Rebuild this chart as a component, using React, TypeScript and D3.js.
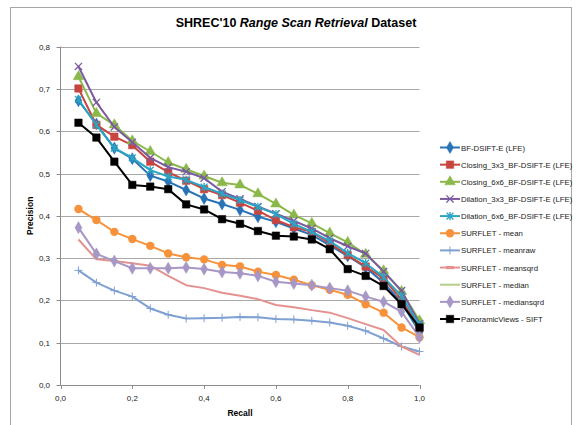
import React from "react";
import * as d3 from "d3";

const recall = [0.05, 0.1, 0.15, 0.2, 0.25, 0.3, 0.35, 0.4, 0.45, 0.5, 0.55, 0.6, 0.65, 0.7, 0.75, 0.8, 0.85, 0.9, 0.95, 1.0];

const bfDsift = [0.672, 0.617, 0.56, 0.535, 0.495, 0.481, 0.461, 0.441, 0.428, 0.414, 0.398, 0.386, 0.37, 0.355, 0.33, 0.305, 0.278, 0.242, 0.195, 0.125];
const closing3 = [0.701, 0.615, 0.587, 0.567, 0.528, 0.503, 0.483, 0.463, 0.449, 0.431, 0.412, 0.39, 0.373, 0.362, 0.335, 0.307, 0.28, 0.252, 0.201, 0.135];
const closing6 = [0.729, 0.642, 0.615, 0.577, 0.552, 0.526, 0.51, 0.494, 0.478, 0.473, 0.452, 0.428, 0.402, 0.382, 0.359, 0.337, 0.309, 0.27, 0.221, 0.152];
const dilation3 = [0.753, 0.668, 0.61, 0.574, 0.537, 0.515, 0.504, 0.489, 0.457, 0.44, 0.422, 0.405, 0.388, 0.37, 0.347, 0.328, 0.311, 0.268, 0.223, 0.145];
const dilation6 = [0.675, 0.615, 0.56, 0.537, 0.508, 0.493, 0.485, 0.468, 0.452, 0.437, 0.421, 0.404, 0.381, 0.362, 0.34, 0.312, 0.288, 0.255, 0.21, 0.142];
const surfMean = [0.416, 0.39, 0.362, 0.345, 0.329, 0.311, 0.302, 0.297, 0.284, 0.28, 0.268, 0.26, 0.249, 0.236, 0.225, 0.213, 0.191, 0.171, 0.136, 0.113];
const surfMeanraw = [0.271, 0.242, 0.223, 0.209, 0.181, 0.166, 0.157, 0.158, 0.159, 0.161, 0.16, 0.156, 0.155, 0.152, 0.148, 0.14, 0.128, 0.11, 0.091, 0.079];
const surfMeansqrd = [0.344, 0.297, 0.293, 0.288, 0.282, 0.258, 0.236, 0.229, 0.218, 0.211, 0.203, 0.189, 0.184, 0.177, 0.171, 0.158, 0.144, 0.13, 0.091, 0.071];
const surfMedian: number[] = [];
const surfMediansqrd = [0.372, 0.31, 0.293, 0.276, 0.276, 0.276, 0.278, 0.274, 0.267, 0.264, 0.258, 0.244, 0.24, 0.236, 0.229, 0.223, 0.209, 0.197, 0.173, 0.113];
const panoramic = [0.62, 0.585, 0.528, 0.473, 0.469, 0.463, 0.427, 0.415, 0.392, 0.381, 0.364, 0.353, 0.351, 0.344, 0.321, 0.274, 0.258, 0.234, 0.191, 0.136];

const seriesNames = [
  "BF-DSIFT-E (LFE)",
  "Closing_3x3_BF-DSIFT-E (LFE)",
  "Closing_6x6_BF-DSIFT-E (LFE)",
  "Dilation_3x3_BF-DSIFT-E (LFE)",
  "Dilation_6x6_BF-DSIFT-E (LFE)",
  "SURFLET - mean",
  "SURFLET - meanraw",
  "SURFLET - meansqrd",
  "SURFLET - median",
  "SURFLET - mediansqrd",
  "PanoramicViews - SIFT",
];
const seriesValues = [bfDsift, closing3, closing6, dilation3, dilation6, surfMean, surfMeanraw, surfMeansqrd, surfMedian, surfMediansqrd, panoramic];
const seriesColors = ["#2873b6", "#c8453f", "#8ab84a", "#7a5aa0", "#2ba4c4", "#f7923a", "#7ea0d2", "#e49290", "#b4d08a", "#a697c6", "#000000"];
const seriesMarkers = ["diamond", "square", "triangle", "x", "star", "circle", "plus", "dash", "none", "diamond", "square"];

const yTicks = [0, 0.1, 0.2, 0.3, 0.4, 0.5, 0.6, 0.7, 0.8];
const xTicks = [0, 0.2, 0.4, 0.6, 0.8, 1.0];

const FONT = "'Liberation Sans', Arial, sans-serif";

function Marker({ type, cx, cy, color, legend }: { type: string; cx: number; cy: number; color: string; legend?: boolean }) {
  if (type === "none") return null;
  if (type === "diamond") {
    const p = d3.symbol().type(d3.symbolDiamond).size(42)();
    return <path d={p || ""} transform={`translate(${cx},${cy})`} fill={color} stroke={color} strokeWidth={0.5} />;
  }
  if (type === "square") {
    const p = d3.symbol().type(d3.symbolSquare).size(56)();
    return <path d={p || ""} transform={`translate(${cx},${cy})`} fill={color} stroke={color} strokeWidth={0.5} />;
  }
  if (type === "triangle") {
    const p = d3.symbol().type(d3.symbolTriangle).size(48)();
    return <path d={p || ""} transform={`translate(${cx},${cy})`} fill={color} stroke={color} strokeWidth={0.5} />;
  }
  if (type === "circle") {
    return <circle cx={cx} cy={cy} r={4.2} fill={color} />;
  }
  if (type === "x") {
    const r = 3.6;
    return (
      <path d={`M${cx - r},${cy - r}L${cx + r},${cy + r}M${cx - r},${cy + r}L${cx + r},${cy - r}`} stroke={color} strokeWidth={1.3} fill="none" />
    );
  }
  if (type === "star") {
    const r = 3.4;
    return (
      <path d={`M${cx - r},${cy - r}L${cx + r},${cy + r}M${cx - r},${cy + r}L${cx + r},${cy - r}M${cx},${cy - r - 0.8}L${cx},${cy + r + 0.8}`} stroke={color} strokeWidth={1.3} fill="none" />
    );
  }
  if (type === "plus") {
    const r = 4;
    return <path d={`M${cx - r},${cy}L${cx + r},${cy}M${cx},${cy - r}L${cx},${cy + r}`} stroke={color} strokeWidth={1} fill="none" />;
  }
  if (type === "dash") {
    if (!legend) return null;
    return <rect x={cx - 4} y={cy - 1.6} width={8} height={3.2} fill={color} />;
  }
  return null;
}

export default function App() {
  const W = 582;
  const H = 425;
  const x = d3.scaleLinear().domain([0, 1]).range([60.5, 419.5]);
  const y = d3.scaleLinear().domain([0, 0.8]).range([385, 46.6]);
  const line = d3
    .line<[number, number]>()
    .x((d) => x(d[0]))
    .y((d) => y(d[1]));

  const legendX = 440;
  const legendY0 = 147.5;
  const legendStep = 17.15;

  return (
    <svg width={W} height={H} style={{ position: "absolute", left: 0, top: 0, background: "#fff" }} fontFamily={FONT}>
      <rect x={10.5} y={7.5} width={561} height={440} fill="#fff" stroke="#a6a6a6" strokeWidth={1} />
      {/* title */}
      <text x={296} y={27} textAnchor="middle" fontSize={12.5} fontWeight="bold" fill="#000">
        SHREC'10 <tspan fontStyle="italic">Range Scan Retrieval</tspan> Dataset
      </text>
      {/* gridlines */}
      {yTicks.slice(1).map((t) => (
        <line key={"g" + t} x1={x(0)} x2={x(1)} y1={Math.round(y(t)) + 0.5} y2={Math.round(y(t)) + 0.5} stroke="#a8a8a8" strokeWidth={1} />
      ))}
      {/* axes */}
      <line x1={x(0)} x2={x(0)} y1={y(0.8)} y2={y(0) + 0.5} stroke="#8c8c8c" strokeWidth={1} />
      <line x1={x(0)} x2={x(1)} y1={Math.round(y(0)) + 0.5} y2={Math.round(y(0)) + 0.5} stroke="#8c8c8c" strokeWidth={1} />
      {yTicks.map((t) => (
        <g key={"yt" + t}>
          <line x1={x(0) - 4} x2={x(0)} y1={Math.round(y(t)) + 0.5} y2={Math.round(y(t)) + 0.5} stroke="#8c8c8c" />
          <text x={50} y={y(t) + 3} textAnchor="end" fontSize={8} fill="#222">
            {d3.format(".1f")(t).replace(".", ",")}
          </text>
        </g>
      ))}
      {xTicks.map((t) => (
        <g key={"xt" + t}>
          <line x1={Math.round(x(t)) + 0.5} x2={Math.round(x(t)) + 0.5} y1={y(0)} y2={y(0) + 4} stroke="#8c8c8c" />
          <text x={x(t)} y={401} textAnchor="middle" fontSize={8} fill="#222">
            {d3.format(".1f")(t).replace(".", ",")}
          </text>
        </g>
      ))}
      <text x={240} y={416} textAnchor="middle" fontSize={8.5} fontWeight="bold" fill="#000">
        Recall
      </text>
      <text transform={`translate(33,${y(0.4)}) rotate(-90)`} textAnchor="middle" fontSize={8.5} fontWeight="bold" fill="#000">
        Precision
      </text>
      {/* series */}
      {seriesValues.map((vals, i) => {
        const pts = vals.map((v, j) => [recall[j], v] as [number, number]);
        if (!pts.length) return null;
        return (
          <g key={"s" + i}>
            <path d={line(pts) || ""} fill="none" stroke={seriesColors[i]} strokeWidth={2} strokeLinejoin="round" />
            {pts.map((p, j) => (
              <Marker key={j} type={seriesMarkers[i]} cx={x(p[0])} cy={y(p[1])} color={seriesColors[i]} />
            ))}
          </g>
        );
      })}
      {/* legend */}
      {seriesNames.map((n, i) => {
        const cy = legendY0 + i * legendStep;
        return (
          <g key={"l" + i}>
            <line x1={legendX} x2={legendX + 20} y1={cy} y2={cy} stroke={seriesColors[i]} strokeWidth={2} />
            <Marker type={seriesMarkers[i]} cx={legendX + 10} cy={cy} color={seriesColors[i]} legend />
            <text x={legendX + 21} y={cy + 3} fontSize={7.8} fill="#222">
              {n}
            </text>
          </g>
        );
      })}
    </svg>
  );
}
